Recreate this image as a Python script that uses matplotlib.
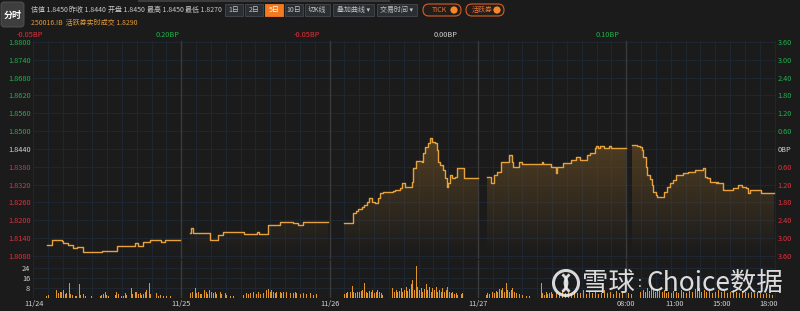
import numpy as np
import matplotlib.pyplot as plt
from matplotlib.patches import FancyBboxPatch, Rectangle, Circle, Arc

plt.rcParams['font.family'] = ['Noto Sans CJK SC', 'DejaVu Sans']
plt.rcParams['font.size'] = 5.3

W, H = 800, 311
BG = '#1b1b1b'
GRID = '#1d2631'
LINE = '#e8a23c'
GREEN = '#22b04c'
RED = '#e2303c'
WHITE = '#d2d2d2'
DAY = 148.3

# price steps, slot within each day / price
d1_t = [14, 19, 29, 30, 35, 40, 44, 50, 69, 84, 102, 105, 110, 117, 128, 132, 147]
d1_p = [1.8118, 1.8134, 1.8131, 1.8125, 1.8117, 1.8106, 1.8109, 1.8094, 1.8097, 1.8114,
        1.8125, 1.8114, 1.8128, 1.8134, 1.8128, 1.8134, 1.8134]
d2_t = [9, 10, 12, 29, 37, 42, 63, 76, 78, 87, 99, 112, 117, 122, 147]
d2_p = [1.8157, 1.8173, 1.8156, 1.8134, 1.8151, 1.8162, 1.8154, 1.8162, 1.8154, 1.8184,
        1.8193, 1.8190, 1.8185, 1.8195, 1.8195]
d3_t = [14, 22, 23, 26, 28, 32, 34, 37, 39, 42, 45, 48, 50, 53, 63, 65, 70, 72, 75, 82,
        83, 86, 92, 93, 95, 98, 100, 102, 105, 107, 108, 110, 113, 115, 117, 118, 120,
        122, 125, 127, 134, 148]
d3_p = [1.8192, 1.8192, 1.8224, 1.8230, 1.8237, 1.8246, 1.8252, 1.8263, 1.8274, 1.8263,
        1.8259, 1.8274, 1.8291, 1.8296, 1.8300, 1.8303, 1.8308, 1.8327, 1.8313, 1.8330,
        1.8375, 1.8401, 1.8397, 1.8425, 1.8448, 1.8459, 1.8476, 1.8465, 1.8459, 1.8437,
        1.8397, 1.8386, 1.8369, 1.8341, 1.8313, 1.8327, 1.8352, 1.8341, 1.8346, 1.8375,
        1.8343, 1.8343]
d4_t = [9, 13, 16, 19, 23, 31, 34, 35, 41, 44, 64, 65, 73, 78, 79, 85, 93, 98, 102, 109,
        112, 117, 118, 120, 122, 126, 131, 133, 148]
d4_p = [1.8345, 1.8324, 1.8352, 1.8364, 1.8397, 1.8420, 1.8397, 1.8380, 1.8397, 1.8391,
        1.8397, 1.8391, 1.8380, 1.8358, 1.8380, 1.8394, 1.8403, 1.8414, 1.8403, 1.8420,
        1.8428, 1.8442, 1.8450, 1.8442, 1.8450, 1.8442, 1.8450, 1.8442, 1.8442]
d5_t = [6, 11, 14, 16, 17, 20, 21, 24, 26, 27, 30, 31, 38, 41, 44, 47, 50, 57, 62, 69,
        77, 79, 81, 84, 90, 91, 92, 97, 107, 112, 116, 120, 122, 124, 135, 148]
d5_p = [1.8453, 1.8450, 1.8446, 1.8437, 1.8414, 1.8380, 1.8352, 1.8338, 1.8318, 1.8296,
        1.8285, 1.8280, 1.8296, 1.8313, 1.8327, 1.8336, 1.8352, 1.8358, 1.8364, 1.8369,
        1.8375, 1.8347, 1.8341, 1.8330, 1.8327, 1.8330, 1.8324, 1.8302, 1.8308, 1.8319,
        1.8313, 1.8308, 1.8293, 1.8302, 1.8293, 1.8293]

# volume per day: slot / lots
v1_t = [13, 15, 23, 25, 27, 28, 30, 32, 33, 36, 37, 39, 42, 43, 46, 47, 50, 52, 58, 67,
        68, 70, 72, 73, 75, 82, 83, 85, 88, 90, 92, 93, 98, 99, 102, 103, 105, 107, 108, 110,
        112, 113, 116, 117, 123, 125, 127, 130, 133, 137]
v1_v = [1.6, 2.1, 6.1, 3.5, 4.8, 4.8, 6.1, 2.7, 3.5, 12, 2.7, 2.1, 1.6, 1.6, 10.7, 2.1,
        2.7, 1.6, 1.3, 1.6, 2.1, 2.7, 4.3, 2.1, 1.3, 2.1, 4.8, 2.7, 1.6, 1.6, 3.5, 2.1, 7.5,
        2.7, 4.8, 4.3, 2.7, 3.5, 2.1, 2.7, 4.3, 6.1, 12, 2.7, 3.5, 1.6, 2.1, 1.6, 1.3, 1.6]
v2_t = [9, 11, 14, 15, 17, 19, 20, 23, 25, 26, 28, 30, 32, 34, 35, 39, 40, 44, 45, 49,
        52, 62, 65, 67, 69, 72, 75, 77, 79, 82, 85, 87, 89, 90, 92, 94, 95, 99, 100, 102,
        105, 109, 112, 114, 115, 119, 122, 125, 129, 132, 135]
v2_v = [3.5, 4.8, 8, 3.5, 4.3, 2.7, 2.7, 6.1, 4.3, 2.7, 6.1, 4.8, 3.5, 4.3, 2.7, 4.8, 2.7,
        3.5, 2.1, 1.6, 1.3, 2.1, 3.5, 2.7, 3.5, 4.3, 2.7, 4.8, 2.7, 3.5, 6.1, 6.9, 4.8, 6.1,
        4.3, 3.5, 4.8, 4.3, 3.5, 4.8, 4.3, 3.5, 4.0, 4.8, 3.5, 2.7, 3.5, 2.7, 3.5, 2.1, 2.7]
v3_t = [15, 17, 18, 21, 23, 24, 26, 28, 30, 32, 33, 35, 37, 38, 40, 42, 43, 45, 47, 48,
        50, 52, 53, 63, 65, 67, 68, 70, 72, 73, 75, 77, 78, 80, 82, 83, 85, 87, 88, 90,
        92, 93, 95, 97, 98, 100, 102, 103, 105, 107, 108, 110, 112, 113, 115, 117, 118, 120,
        122, 123, 125, 127, 128, 132, 133]
v3_v = [2.7, 3.5, 4.3, 4.8, 9.6, 4.8, 3.5, 4.8, 4.3, 5.3, 6.1, 12, 4.8, 3.5, 5.3, 4.3, 6.1,
        3.5, 4.8, 6.1, 4.8, 3.5, 2.1, 7.5, 4.8, 6.1, 4.8, 5.3, 7.5, 4.8, 6.1, 8.8, 5.3, 6.9,
        10.7, 14, 6.1, 26, 8.8, 6.1, 7.5, 4.8, 6.9, 10.7, 6.1, 8.8, 4.8, 7.5, 6.1, 8.8, 4.8,
        6.1, 4.8, 7.5, 4.8, 6.1, 8.8, 4.8, 3.5, 4.8, 2.7, 3.5, 2.1, 2.7, 3.5]
v4_t = [9, 10, 12, 15, 17, 19, 20, 22, 24, 25, 27, 29, 30, 32, 34, 35, 37, 39, 42, 45,
        49, 52, 64, 65, 67, 69, 70, 72, 74, 75, 79, 82, 85, 88, 91, 94, 97, 100, 103, 106,
        109, 112, 115, 118, 121, 124, 127, 130, 133, 136, 139, 142, 145]
v4_v = [2.1, 3.5, 2.7, 4.8, 3.5, 5.3, 4.3, 6.9, 6.1, 7.5, 4.8, 12, 6.1, 4.8, 6.1, 8, 4.8,
        3.5, 2.7, 2.1, 1.6, 1.6, 12, 3.5, 2.1, 4.8, 2.7, 3.5, 4.8, 2.7, 4, 3, 5, 3.5, 4.5, 3,
        5, 3.5, 4, 6, 3, 4.5, 3.5, 5, 3, 4, 6, 3.5, 4.5, 3, 5, 3.5, 4]
v5_t = [2, 5, 14, 17, 19, 21, 23, 25, 27, 29, 31, 33, 36, 38, 40, 42, 45, 47, 50, 52,
        55, 57, 60, 63, 66, 69, 71, 73, 75, 78, 80, 83, 86, 89, 92, 95, 98, 101, 104, 107,
        110, 113, 116, 119, 122, 125, 128, 131, 134, 137, 140, 143, 146]
v5_v = [3.5, 2.7, 4.8, 6.1, 4.3, 7.5, 5.3, 8.8, 6.1, 4.8, 6.9, 5.3, 4.3, 6.1, 3.5, 4.8, 3.5,
        5.3, 4.3, 3.5, 6.1, 4.8, 3.5, 5.3, 4.3, 6.9, 5.3, 7.5, 4.8, 6.1, 4.3, 5.3, 3.5, 4.8,
        6.1, 4.3, 5.3, 3.5, 4.8, 6.1, 4.3, 3.5, 5.3, 4.3, 3.5, 4.8, 3.5, 4.3, 3.5, 2.7, 3.5,
        2.7, 2.1]

price_ticks = [1.8800, 1.8740, 1.8680, 1.8620, 1.8560, 1.8500, 1.8440,
               1.8380, 1.8320, 1.8260, 1.8200, 1.8140, 1.8080]
bp_ticks = ['3.60', '3.00', '2.40', '1.80', '1.20', '0.60', '0BP',
            '0.60', '1.20', '1.80', '2.40', '3.00', '3.60']
prev_close = 1.8440
vol_ticks = [8, 16, 24]
date_labels = ['11/24', '11/25', '11/26', '11/27']
time_labels = ['08:00', '11:00', '15:00', '18:00']
time_slots = [0, 48, 95, 142]
day_bp = ['-0.05BP', '0.20BP', '-0.05BP', '0.00BP', '0.10BP']
day_bp_x = [30, 168, 307, 446, 608]

days_t = [d1_t, d2_t, d3_t, d4_t, d5_t]
days_p = [d1_p, d2_p, d3_p, d4_p, d5_p]
vols_t = [v1_t, v2_t, v3_t, v4_t, v5_t]
vols_v = [v1_v, v2_v, v3_v, v4_v, v5_v]

XMAX = 743
YHI = 1.8800 + 1 / 2972.2
YLO = 1.8080 - 3 / 2972.2


def px_axes(x0, y0, x1, y1, **kw):
    return fig.add_axes([x0 / W, 1 - y1 / H, (x1 - x0) / W, (y1 - y0) / H], **kw)


fig = plt.figure(figsize=(W / 100, H / 100), dpi=100, facecolor=BG)

ax = px_axes(33, 41, 776, 259)
vx = px_axes(33, 260, 776, 298)
for a in (ax, vx):
    a.set_facecolor(BG)
    for s in a.spines.values():
        s.set_visible(False)
    a.set_xlim(0, XMAX)
    a.set_xticks(np.arange(0, XMAX, DAY / 10), minor=True)
    a.grid(True, which='minor', axis='x', color=GRID, lw=0.8)
    a.tick_params(which='both', length=0)
    for d in range(1, 5):
        a.axvline(d * DAY, color='#3a3a3a', lw=1, zorder=3)

# gradient for the area under the price
ys = np.linspace(YLO, YHI, 256)
grad = np.zeros((256, 1, 4))
grad[:, 0, :3] = (0.47, 0.34, 0.15)
grad[:, 0, 3] = np.clip((ys - 1.8085) / (1.848 - 1.8085), 0, 1) * 0.6

for d in range(5):
    t = np.array(days_t[d]) + d * DAY
    p = np.array(days_p[d])
    poly = ax.fill_between(t, p, YLO, step='post', color='none', lw=0)
    im = ax.imshow(grad, extent=[0, XMAX, YLO, YHI], origin='lower',
                   aspect='auto', interpolation='bilinear', zorder=2)
    im.set_clip_path(poly.get_paths()[0], transform=ax.transData)
    ax.step(t, p, where='post', color=LINE, lw=1.0, zorder=4)

    vt = np.array(vols_t[d]) + d * DAY
    vx.bar(vt, vols_v[d], width=1.0, color='#e0962c', lw=0, zorder=4)

ax.set_xlim(0, XMAX)
ax.set_ylim(YLO, YHI)
ax.set_yticks(price_ticks)
ax.set_yticklabels([f'{v:.4f}' for v in price_ticks])
ax.grid(True, axis='y', color=GRID, lw=0.8)
ax.set_xticks([])
ax.tick_params(axis='y', pad=1.5)
for lab, v in zip(ax.get_yticklabels(), price_ticks):
    lab.set_color(GREEN if v > prev_close else (WHITE if v == prev_close else RED))
ax.axhline(YLO, color='#2e2e2e', lw=1)

ar = ax.twinx()
ar.set_ylim(YLO, YHI)
ar.set_yticks(price_ticks)
ar.set_yticklabels(bp_ticks)
ar.tick_params(length=0, pad=1)
for s in ar.spines.values():
    s.set_visible(False)
for lab, v in zip(ar.get_yticklabels(), price_ticks):
    lab.set_color(GREEN if v > prev_close else (WHITE if v == prev_close else RED))

vx.set_ylim(-0.4, 30.5)
vx.set_yticks(vol_ticks)
vx.set_yticklabels([str(v) for v in vol_ticks], color=WHITE)
vx.grid(True, axis='y', color=GRID, lw=0.8)
vx.tick_params(axis='y', pad=2)
vx.set_xticks([1, DAY, 2 * DAY, 3 * DAY] + [4 * DAY + s for s in time_slots])
vx.set_xticklabels(date_labels + time_labels, color=WHITE)
vx.tick_params(axis='x', pad=1.5)

# header, buttons, watermark
ov = fig.add_axes([0, 0, 1, 1], zorder=10)
ov.set_xlim(0, W)
ov.set_ylim(H, 0)
ov.axis('off')
ov.patch.set_alpha(0)

ov.add_patch(Rectangle((138, 0), 252, 2, fc='#3c3c3c', ec='none'))
ov.add_patch(FancyBboxPatch((1, 2), 23, 25, boxstyle='round,pad=0,rounding_size=3',
                            fc='#3e3e3e', ec='#565656', lw=0.6))
ov.text(12.5, 15, '分时', color='white', fontsize=6.5, fontweight='bold',
        ha='center', va='center')

quote_names = ['估值', '昨收', '开盘', '最高', '最低']
quote_vals = ['1.8450', '1.8440', '1.8450', '1.8450', '1.8270']
quote_x = [31, 69, 108, 147, 185]
for n, v, x in zip(quote_names, quote_vals, quote_x):
    ov.text(x, 10, f'{n} {v}', color='#c8c8c8', fontsize=5, va='center')
ov.text(31, 23, '250016.IB  活跃券实时成交 1.8290', color='#e39a38', fontsize=5,
        va='center')

buttons = ['1日', '2日', '5日', '10日', '切K线', '叠加曲线 ▾', '交易时间 ▾']
btn_x = [(225, 243), (245, 263), (265, 283), (285, 303), (305, 330), (333, 374), (377, 417)]
for b, (x0, x1) in zip(buttons, btn_x):
    on = b == '5日'
    ov.add_patch(Rectangle((x0, 4), x1 - x0, 12, fc='#f47a22' if on else '#2b2e33',
                           ec='#f47a22' if on else '#45484e', lw=0.6))
    ov.text((x0 + x1) / 2, 10, b, color='white' if on else '#c4c4c4', fontsize=5,
            ha='center', va='center')
for b, (x0, x1) in zip(['TICK', '活跃券'], [(423, 461), (466, 504)]):
    ov.add_patch(FancyBboxPatch((x0, 4), x1 - x0, 12, boxstyle='round,pad=0,rounding_size=6',
                                fc='#251d18', ec='#d25f2a', lw=0.8))
    ov.text(x0 + 16, 10, b, color='#e8793a', fontsize=5, ha='center', va='center')
    ov.add_patch(Circle((x1 - 7, 10), 3.6, fc='#f58a2a', ec='none'))

for s, x in zip(day_bp, day_bp_x):
    c = RED if s.startswith('-') else (WHITE if s == '0.00BP' else GREEN)
    ov.text(x, 35, s, color=c, fontsize=5.3, ha='center', va='center')

wm = '#eeeeee'
ov.add_patch(Circle((566, 283), 12.5, fill=False, ec=wm, lw=2.2, alpha=0.9))
ov.add_patch(Arc((557, 283), 20, 20, theta1=-58, theta2=58, ec=wm, lw=2, alpha=0.9))
ov.add_patch(Arc((575, 283), 20, 20, theta1=122, theta2=238, ec=wm, lw=2, alpha=0.9))
ov.text(582, 283, '雪球', color=wm, fontsize=19, va='center', alpha=0.92)
ov.text(638, 283, ':', color=wm, fontsize=10, va='center', alpha=0.9)
ov.text(646, 283, 'Choice数据', color=wm, fontsize=19, va='center', alpha=0.92)

fig.savefig('out.png', dpi=100, facecolor=BG)
